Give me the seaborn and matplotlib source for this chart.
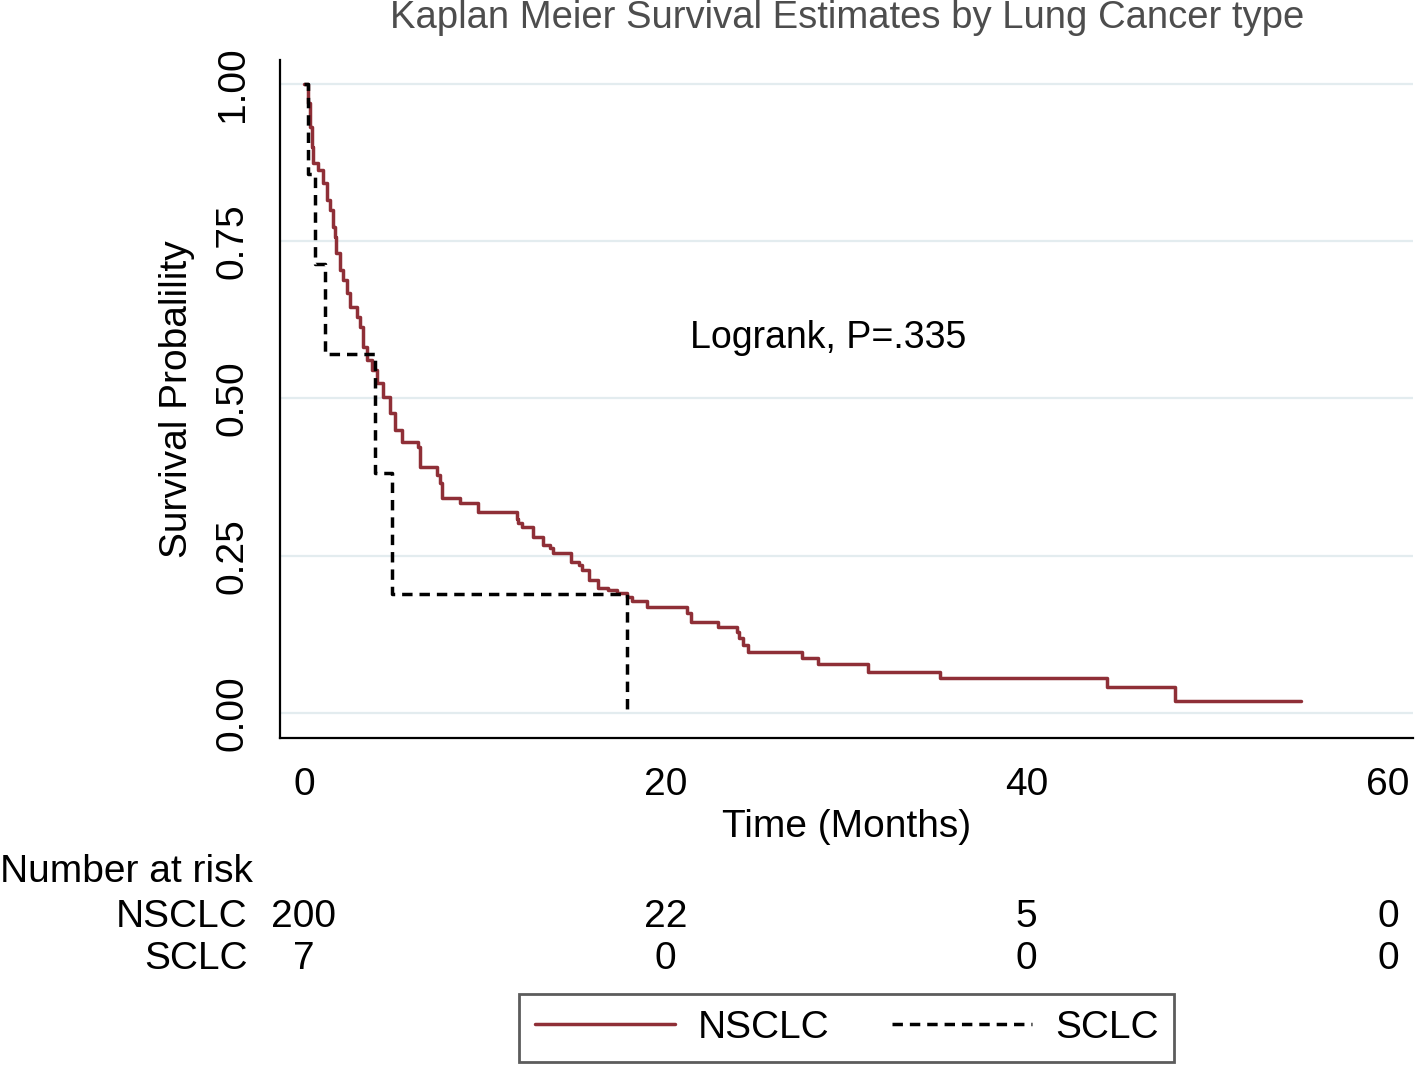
import pandas as pd
import matplotlib
matplotlib.use("Agg")
import matplotlib.pyplot as plt
import matplotlib.transforms as mtransforms
import seaborn as sns

# %%
# Kaplan-Meier step values (time in months, survival)
nsclc_time = [0, 0.22, 0.33, 0.44, 0.5, 0.77, 1.05, 1.27, 1.44, 1.6, 1.7, 1.8,
              2.0, 2.16, 2.38, 2.55, 2.93, 3.1, 3.27, 3.49, 3.76, 4.04, 4.37,
              4.76, 5.04, 5.42, 6.31, 6.42, 7.36, 7.53, 7.64, 8.63, 9.63,
              11.8, 11.85, 12.07, 12.7, 13.25, 13.6, 13.8, 14.8, 15.2, 15.4,
              15.8, 16.3, 16.8, 17.3, 17.9, 18.15, 19.0, 21.2, 21.4, 22.9,
              23.95, 24.1, 24.3, 24.55, 27.55, 28.45, 31.2, 35.2, 44.45,
              48.2, 55.2]
nsclc_surv = [1.0, 0.97, 0.932, 0.90, 0.874, 0.863, 0.843, 0.816, 0.80,
              0.773, 0.757, 0.731, 0.704, 0.688, 0.667, 0.645, 0.63, 0.614,
              0.582, 0.561, 0.545, 0.525, 0.502, 0.477, 0.45, 0.431, 0.423,
              0.391, 0.378, 0.366, 0.342, 0.334, 0.320, 0.308, 0.302, 0.296,
              0.280, 0.267, 0.262, 0.254, 0.240, 0.235, 0.227, 0.211, 0.199,
              0.196, 0.191, 0.185, 0.178, 0.169, 0.159, 0.145, 0.137, 0.129,
              0.119, 0.108, 0.097, 0.088, 0.078, 0.065, 0.056, 0.041, 0.019,
              0.019]

sclc_time = [0, 0.25, 0.6, 1.16, 3.93, 4.86, 17.9]
sclc_surv = [1.0, 0.857, 0.714, 0.571, 0.381, 0.190, 0.0]

groups = ["NSCLC", "SCLC"]
risk_times = [0, 20, 40, 60]
risk_nsclc = [200, 22, 5, 0]
risk_sclc = [7, 0, 0, 0]

# %%
df = pd.DataFrame({
    "time": nsclc_time + sclc_time,
    "surv": nsclc_surv + sclc_surv,
    "group": ["NSCLC"] * len(nsclc_time) + ["SCLC"] * len(sclc_time),
})

sns.set_style("white")
plt.rcParams["font.family"] = ["Liberation Sans", "DejaVu Sans"]
plt.rcParams["text.color"] = "black"
plt.rcParams["axes.labelcolor"] = "black"
plt.rcParams["xtick.color"] = "black"
plt.rcParams["ytick.color"] = "black"

fig = plt.figure(figsize=(14.16, 10.67), dpi=100)
ax = fig.add_axes([0.1977, 0.3083, 0.8002, 0.6355])

sns.lineplot(data=df, x="time", y="surv", hue="group", style="group",
             palette={"NSCLC": "#8f2f37", "SCLC": "black"},
             dashes={"NSCLC": "", "SCLC": (3, 2)},
             drawstyle="steps-post", estimator=None, linewidth=2.5,
             legend=False, ax=ax)

ax.set_xlim(-1.33, 61.38)
ax.set_ylim(-0.0397, 1.038)
ax.set_xticks(risk_times)
ax.set_yticks([0, 0.25, 0.5, 0.75, 1.0])
ax.set_yticklabels(["0.00", "0.25", "0.50", "0.75", "1.00"], rotation=90, va="center")
ax.tick_params(axis="both", length=11, width=1.3, pad=10, labelsize=28, color="black")
ax.yaxis.grid(True, color="#e3ecef", linewidth=1.6)
ax.xaxis.grid(False)
ax.set_axisbelow(True)
for side in ["top", "right"]:
    ax.spines[side].set_visible(False)
for side in ["left", "bottom"]:
    ax.spines[side].set_color("black")
    ax.spines[side].set_linewidth(1.6)

ax.set_xlabel("Time (Months)", fontsize=28, labelpad=4)
ax.set_ylabel("Survival Probalility", fontsize=28, labelpad=14)
ax.text(21.37, 0.596, "Logrank, P=.335", fontsize=27, ha="left", va="center")

fig.text(0.598, 0.974, "Kaplan Meier Survival Estimates by Lung Cancer type",
         fontsize=27.5, color="#4d4d4d", ha="center", va="baseline")

# number at risk table
trans = mtransforms.blended_transform_factory(ax.transData, fig.transFigure)
fig.text(0.0, 0.1826, "Number at risk", fontsize=28, ha="left", va="center")
fig.text(0.175, 0.1405, "NSCLC", fontsize=28, ha="right", va="center")
fig.text(0.175, 0.1011, "SCLC", fontsize=28, ha="right", va="center")
for t, n1, n2 in zip(risk_times, risk_nsclc, risk_sclc):
    ax.text(t, 0.1405, str(n1), fontsize=28, ha="center", va="center", transform=trans)
    ax.text(t, 0.1011, str(n2), fontsize=28, ha="center", va="center", transform=trans)

leg = fig.legend(handles=ax.lines[:2], labels=groups, loc="center",
                 bbox_to_anchor=(0.598, 0.0366), ncol=2, fontsize=28,
                 frameon=True, fancybox=False, edgecolor="#333333",
                 handlelength=3.6, handletextpad=0.6, columnspacing=1.6,
                 borderpad=0.4)
leg.get_frame().set_linewidth(2)

fig.savefig("out.png", dpi=100)
